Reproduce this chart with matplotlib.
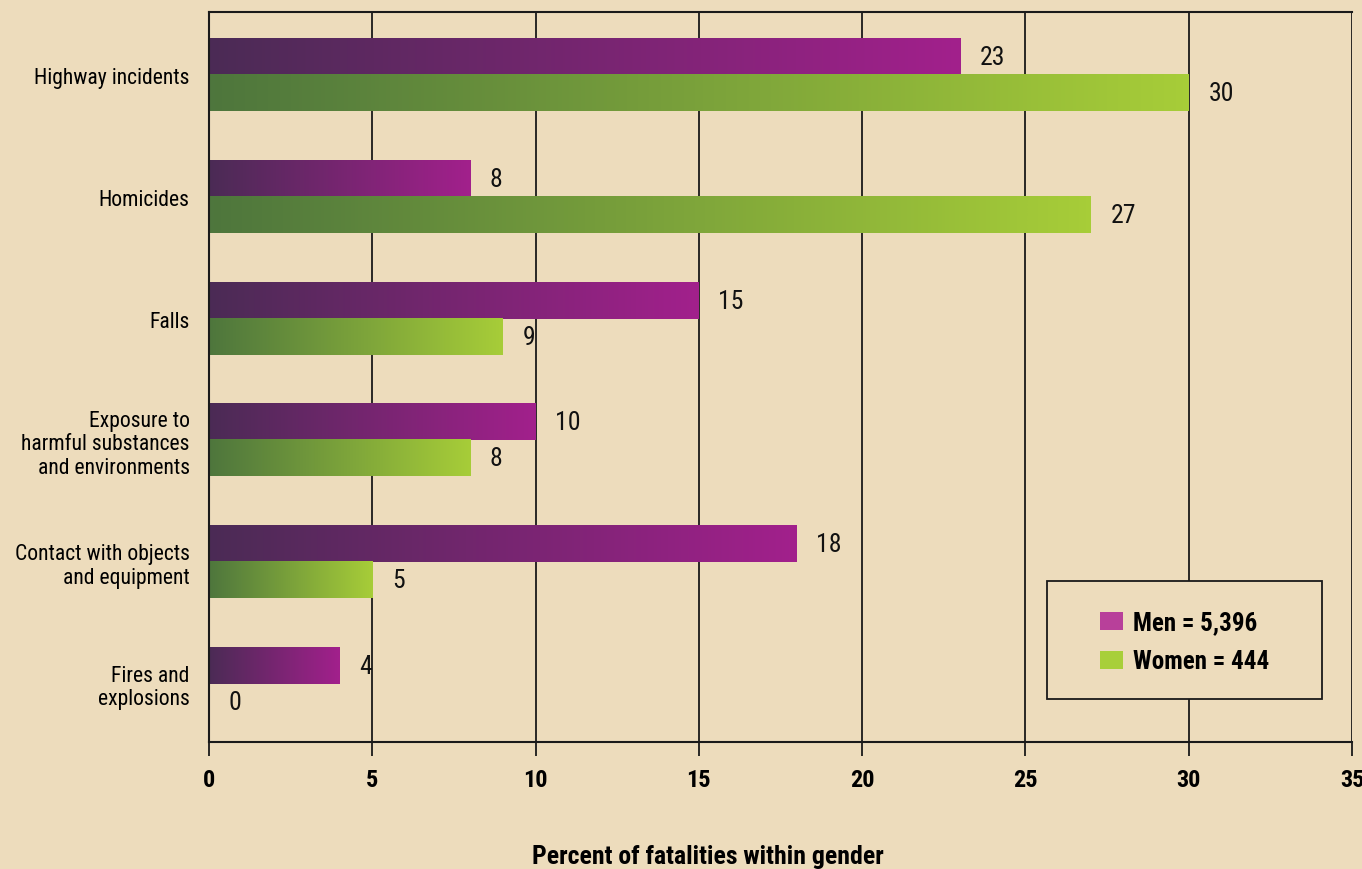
import matplotlib.pyplot as plt
import numpy as np
from matplotlib.colors import LinearSegmentedColormap
from matplotlib.patches import Patch, Rectangle

categories = [
    "Highway incidents",
    "Homicides",
    "Falls",
    "Exposure to\nharmful substances\nand environments",
    "Contact with objects\nand equipment",
    "Fires and\nexplosions",
]
men = [23, 8, 15, 10, 18, 4]
women = [30, 27, 9, 8, 5, 0]
x_ticks = [0, 5, 10, 15, 20, 25, 30, 35]
legend_labels = ["Men = 5,396", "Women = 444"]

BG = "#eddcbc"
men_cmap = LinearSegmentedColormap.from_list("men", ["#4b2b55", "#a2208c"])
women_cmap = LinearSegmentedColormap.from_list("women", ["#4e763d", "#a7cd38"])
FONT = ["Roboto Condensed", "IBM Plex Sans Condensed", "DejaVu Sans"]

plt.rcParams["font.family"] = FONT

fig = plt.figure(figsize=(13.62, 8.70), dpi=100, facecolor=BG)
ax = fig.add_axes([209 / 1362, 1 - 743 / 870, (1352 - 209) / 1362, 730 / 870])
ax.set_facecolor(BG)

bar_h = 0.296
grad = np.linspace(0, 1, 256).reshape(1, -1)


def gradient_bar(ax, value, y0, y1, cmap):
    if value <= 0:
        return
    ax.imshow(grad, cmap=cmap, extent=[0, value, y1, y0], aspect="auto",
              interpolation="bicubic", zorder=2)


for i, (m, w) in enumerate(zip(men, women)):
    gradient_bar(ax, m, i - bar_h, i, men_cmap)
    gradient_bar(ax, w, i, i + bar_h, women_cmap)
    ax.text(m + 0.6, i - bar_h / 2, str(m), ha="left", va="center",
            fontsize=18.5, color="#111111", zorder=4)
    ax.text(w + 0.6, i + bar_h / 2, str(w), ha="left", va="center",
            fontsize=18.5, color="#111111", zorder=4)

ax.set_xlim(0, 35)
ax.set_ylim(len(categories) - 0.52, -0.52)

for x in x_ticks[1:]:
    ax.axvline(x, color="#1a1a1a", linewidth=1.3, zorder=1)

ax.set_yticks(range(len(categories)))
ax.set_yticklabels(categories, fontsize=15.6, ha="right", linespacing=1.14)
ax.tick_params(axis="y", length=0, pad=14)
ax.set_xticks(x_ticks)
ax.set_xticklabels([str(t) for t in x_ticks], fontsize=17.5, fontweight="bold")
ax.tick_params(axis="x", direction="out", length=10, width=1.3,
               color="#1a1a1a", pad=9)

for side in ["left", "bottom", "top"]:
    ax.spines[side].set_linewidth(1.5)
    ax.spines[side].set_color("#1a1a1a")
ax.spines["right"].set_visible(False)

fig.text(708 / 1362, 1 - 857 / 870, "Percent of fatalities within gender",
         ha="center", va="center", fontsize=18.5, fontweight="bold")

# legend box
box = Rectangle((1047 / 1362, 1 - 700 / 870), 275 / 1362, 118 / 870,
                transform=fig.transFigure, facecolor=BG, edgecolor="#1a1a1a",
                linewidth=1.3, zorder=5)
fig.patches.append(box)
handles = [Patch(facecolor="#b8409a", label=legend_labels[0]),
           Patch(facecolor="#a8cf3a", label=legend_labels[1])]
fig.legend(handles=handles, loc="center left",
           bbox_to_anchor=(1077 / 1362, 1 - 643 / 870),
           frameon=False, prop={"size": 18, "weight": "bold"},
           handlelength=0.95, handleheight=0.75, handletextpad=0.4,
           labelspacing=0.6)

fig.savefig("out.png", dpi=100, facecolor=BG)
